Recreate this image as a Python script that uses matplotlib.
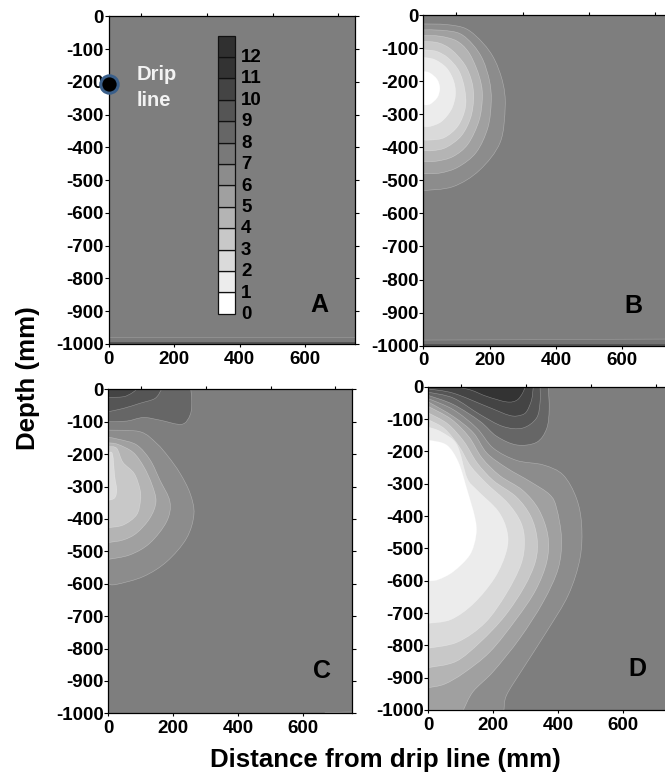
import matplotlib
matplotlib.use("Agg")
import matplotlib.pyplot as plt
from matplotlib.path import Path
from matplotlib.patches import PathPatch

plt.rcParams['font.family'] = ['Liberation Sans', 'DejaVu Sans']
plt.rcParams['font.weight'] = 'bold'
plt.rcParams['axes.unicode_minus'] = False
plt.rcParams['text.kerning_factor'] = 6

levels = [0, 1, 2, 3, 4, 5, 6, 7, 8, 9, 10, 11, 12]
level_greys = ['#ffffff', '#ececec', '#dadada', '#c8c8c8', '#b4b4b4', '#a0a0a0', '#8c8c8c',
               '#797979', '#666666', '#555555', '#444444', '#333333', '#303030']
background = '#7e7e7e'

# contour lines, (distance mm, depth mm)
b_level6 = [(0, -27), (70, -29), (130, -42), (180, -85), (215, -135), (240, -205), (247, -277),
            (232, -385), (170, -469), (90, -519), (0, -531)]
b_level5 = [(0, -45), (55, -46), (110, -56), (150, -90), (180, -136), (200, -200), (205, -260),
            (195, -340), (160, -415), (105, -460), (50, -478), (0, -480)]
b_level4 = [(0, -62), (50, -64), (100, -78), (135, -110), (160, -160), (175, -210), (178, -255),
            (168, -320), (135, -390), (90, -428), (40, -442), (0, -443)]
b_level3 = [(0, -80), (45, -84), (85, -105), (125, -150), (146, -200), (152, -250), (143, -310),
            (115, -365), (70, -400), (30, -410), (0, -410)]
b_level2 = [(0, -105), (40, -110), (75, -130), (108, -170), (125, -225), (127, -280), (105, -335),
            (65, -370), (25, -378), (0, -378)]
b_level1 = [(0, -128), (35, -135), (70, -160), (91, -198), (97, -240), (85, -285), (55, -322),
            (20, -337), (0, -337)]
b_level0 = [(0, -170), (20, -175), (42, -195), (50, -222), (42, -250), (20, -270), (0, -272)]

c_level8 = [(0, -100), (57, -98), (108, -87), (159, -95), (226, -108), (252, -79), (257, -38), (254, 0)]
c_level9 = [(0, -69), (46, -59), (98, -43), (144, -28), (164, 0)]
c_level10 = [(0, -25), (46, -23), (72, -12), (87, 0)]
c_level6 = [(0, -126), (98, -131), (149, -167), (185, -208), (221, -259), (252, -321), (264, -385),
            (241, -460), (180, -532), (108, -578), (26, -602), (0, -602)]
c_level5 = [(0, -148), (36, -155), (88, -172), (129, -218), (159, -280), (190, -347), (180, -408),
            (128, -475), (67, -511), (0, -525)]
c_level4 = [(0, -165), (30, -170), (77, -195), (110, -240), (135, -295), (147, -347), (128, -398),
            (87, -444), (46, -465), (0, -473)]
c_level3 = [(0, -177), (26, -182), (45, -225), (80, -260), (98, -310), (99, -345), (87, -388),
            (46, -419), (0, -427)]
c_level2 = [(0, -196), (13, -200), (20, -270), (26, -310), (20, -335), (0, -343)]

d_level8 = [(0, -27), (77, -55), (159, -107), (210, -153), (272, -180), (333, -172), (364, -130),
            (372, -70), (369, 0)]
d_level9 = [(0, -17), (77, -35), (159, -86), (230, -123), (290, -128), (333, -97), (344, -47), (344, 0)]
d_level10 = [(0, -7), (77, -20), (180, -61), (251, -89), (285, -88), (303, -76), (318, -40), (323, 0)]
d_level11 = [(80, 0), (130, -10), (180, -30), (241, -47), (272, -42), (290, -20), (298, 0)]
d_level6 = [(0, -37), (77, -71), (149, -128), (200, -190), (272, -228), (354, -242), (415, -273),
            (456, -345), (472, -428), (467, -531), (431, -644), (364, -758), (292, -871), (241, -954),
            (233, -1000)]
d_level5 = [(0, -47), (77, -92), (139, -143), (180, -205), (241, -251), (313, -293), (374, -334),
            (395, -376), (410, -469), (400, -562), (354, -665), (282, -778), (200, -881), (138, -943),
            (108, -1000)]
d_level4 = [(0, -61), (70, -100), (125, -155), (165, -220), (220, -275), (290, -320), (340, -380),
            (368, -460), (365, -540), (330, -630), (270, -720), (190, -820), (110, -885), (50, -920),
            (0, -931)]
d_level3 = [(0, -81), (60, -115), (110, -170), (150, -235), (200, -290), (270, -340), (315, -400),
            (335, -470), (330, -540), (295, -620), (235, -710), (160, -790), (85, -850), (0, -869)]
d_level2 = [(0, -102), (50, -130), (95, -185), (130, -245), (180, -300), (245, -360), (285, -420),
            (296, -480), (285, -550), (240, -640), (175, -730), (90, -790), (0, -809)]
d_level1 = [(0, -125), (40, -140), (88, -180), (119, -282), (150, -320), (215, -385), (243, -450),
            (240, -510), (205, -590), (140, -670), (70, -720), (0, -732)]
d_level0 = [(0, -165), (56, -180), (92, -232), (118, -314), (144, -407), (147, -459), (128, -520),
            (77, -572), (30, -597), (0, -601)]

# bottom edge bands of panels A and B, short line at the bottom of C
a_band = [(0, -980), (750, -980), (750, -1000), (0, -1000)]
b_band = [(0, -983), (750, -980), (750, -1000), (0, -1000)]
c_edge_x = [668, 750]
c_edge_z = [-998, -996]

x_ticks = [0, 100, 200, 300, 400, 500, 600, 700]
x_labels = [0, 200, 400, 600]
y_ticks = [0, -100, -200, -300, -400, -500, -600, -700, -800, -900, -1000]


def add_panel(left, top, right, bottom):
    w, h = 665.0, 773.0
    ax = fig.add_axes([left / w, 1 - bottom / h, (right - left) / w, (bottom - top) / h])
    ax.set_xlim(0, 750)
    ax.set_ylim(-1000, 0)
    ax.set_facecolor(background)
    ax.set_xticks(x_labels)
    ax.set_xticks(x_ticks, minor=True)
    ax.set_yticks(y_ticks)
    ax.tick_params(axis='x', which='major', labelsize=13.5, length=2.2, width=0.8, pad=2.5)
    ax.tick_params(axis='x', which='minor', top=True, bottom=False, length=2.2, width=0.8)
    ax.tick_params(axis='y', labelsize=13.5, length=2.6, width=0.8, pad=0.8, right=True)
    for spine in ax.spines.values():
        spine.set_linewidth(0.9)
    return ax


def smooth_patch(ax, points, level, corner=None):
    # runs a curve through the read points, straight along the panel edge
    verts = [points[0]]
    codes = [Path.MOVETO]
    n = len(points)
    for i in range(n - 1):
        p0 = points[max(i - 1, 0)]
        p1 = points[i]
        p2 = points[i + 1]
        p3 = points[min(i + 2, n - 1)]
        verts.append((p1[0] + (p2[0] - p0[0]) / 6, p1[1] + (p2[1] - p0[1]) / 6))
        verts.append((p2[0] - (p3[0] - p1[0]) / 6, p2[1] - (p3[1] - p1[1]) / 6))
        verts.append(p2)
        codes += [Path.CURVE4, Path.CURVE4, Path.CURVE4]
    if corner is not None:
        verts.append(corner)
        codes.append(Path.LINETO)
    verts.append(points[0])
    codes.append(Path.CLOSEPOLY)
    ax.add_patch(PathPatch(Path(verts, codes), facecolor=level_greys[level],
                           edgecolor=(1, 1, 1, 0.35), linewidth=0.4, zorder=2))


fig = plt.figure(figsize=(6.65, 7.73), dpi=100)

ax_a = add_panel(108.7, 16.3, 354.5, 344)
ax_b = add_panel(423.3, 15, 672, 345.7)
ax_c = add_panel(108.3, 389.3, 351.7, 713.3)
ax_d = add_panel(428.3, 386.7, 672, 710)

# panel A: bottom band, drip line and scale
ax_a.fill([p[0] for p in a_band], [p[1] for p in a_band], color='#7a7a7a', ec='#989898', lw=0.5, zorder=2)
ax_a.axhspan(-1000, -995, color='#555555', lw=0, zorder=2)
ax_a.plot([0], [-208], 'o', ms=12.5, mfc='black', mec='#3a5f8a', mew=2.2, clip_on=False, zorder=6)
ax_a.text(86, -217, 'Drip\nline', color='#f2f2f2', fontsize=14.5, va='center', ha='left', linespacing=1.5)
cell = 65.3
ax_a.bar([359] * len(levels), [cell] * len(levels), width=52,
         bottom=[-908 + cell * lev for lev in levels], color=level_greys,
         edgecolor='#111111', linewidth=0.9, zorder=3)
for lev in levels:
    ax_a.text(404, -911 + 65.5 * lev, str(lev), fontsize=13.5, va='center', ha='left', color='black')

# panel B
ax_b.fill([p[0] for p in b_band], [p[1] for p in b_band], color='#747474', ec='#989898', lw=0.5, zorder=2)
ax_b.axhspan(-1000, -995, color='#555555', lw=0, zorder=2)
for lev, line in [(6, b_level6), (5, b_level5), (4, b_level4), (3, b_level3), (2, b_level2),
                  (1, b_level1), (0, b_level0)]:
    smooth_patch(ax_b, line, lev)

# panel C
for lev, line in [(8, c_level8), (9, c_level9), (10, c_level10)]:
    smooth_patch(ax_c, line, lev, corner=(0, 0))
for lev, line in [(6, c_level6), (5, c_level5), (4, c_level4), (3, c_level3), (2, c_level2)]:
    smooth_patch(ax_c, line, lev)
ax_c.plot(c_edge_x, c_edge_z, color='#a2a2a2', lw=0.5, zorder=2)

# panel D
for lev, line in [(8, d_level8), (9, d_level9), (10, d_level10)]:
    smooth_patch(ax_d, line, lev, corner=(0, 0))
smooth_patch(ax_d, d_level11, 11)
for lev, line in [(6, d_level6), (5, d_level5)]:
    smooth_patch(ax_d, line, lev, corner=(0, -1000))
for lev, line in [(4, d_level4), (3, d_level3), (2, d_level2), (1, d_level1), (0, d_level0)]:
    smooth_patch(ax_d, line, lev)

ax_a.text(644, -881, 'A', fontsize=18, ha='center', va='center', color='black')
ax_b.text(634, -881, 'B', fontsize=18, ha='center', va='center', color='black')
ax_c.text(660, -868, 'C', fontsize=18, ha='center', va='center', color='black')
ax_d.text(642, -873, 'D', fontsize=18, ha='center', va='center', color='black')

fig.text(28 / 665, 1 - 378 / 773, 'Depth (mm)', rotation=90, fontsize=18.6, ha='center', va='center')
fig.text(385 / 665, 1 - 760 / 773, 'Distance from drip line (mm)', fontsize=18.6, ha='center', va='center')

fig.savefig('out.png', dpi=100)
